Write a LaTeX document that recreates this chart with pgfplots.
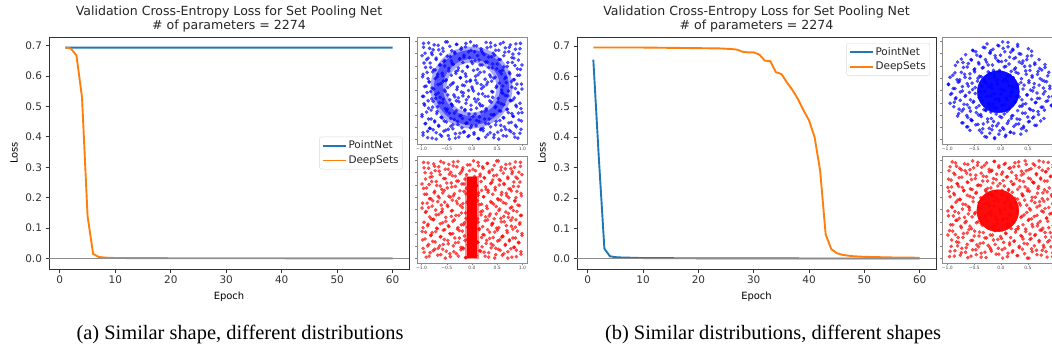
\documentclass[border=0pt]{standalone}
\usepackage{pgfplots}
\pgfplotsset{compat=1.18}
\usepackage{pgfplotstable}
\usepackage{fontspec}
\setmainfont{DejaVu Sans}
\newfontfamily\capfont{Liberation Serif}
\definecolor{tabblue}{HTML}{1F77B4}
\definecolor{taborange}{HTML}{FF7F0E}

\pgfplotstableread{
a b
-0.97 -0.91
-0.88 -0.83
-0.79 -0.97
-0.71 -0.86
-0.60 -0.93
-0.52 -0.81
-0.45 -0.99
-0.33 -0.88
-0.26 -0.95
-0.15 -0.84
-0.06 -0.92
0.04 -0.86
0.13 -0.98
0.22 -0.82
0.31 -0.90
0.43 -0.96
0.51 -0.85
0.62 -0.92
0.74 -0.81
0.85 -0.95
0.95 -0.87
-0.93 -0.68
-0.84 -0.77
-0.74 -0.64
-0.66 -0.73
-0.55 -0.62
-0.47 -0.79
-0.38 -0.70
-0.29 -0.63
-0.20 -0.76
-0.10 -0.66
-0.01 -0.72
0.09 -0.61
0.18 -0.78
0.27 -0.67
0.37 -0.74
0.48 -0.63
0.57 -0.71
0.67 -0.79
0.78 -0.65
0.88 -0.74
0.98 -0.62
-0.99 -0.53
-0.90 -0.44
-0.81 -0.58
-0.70 -0.47
-0.61 -0.55
-0.50 -0.42
-0.42 -0.57
-0.35 -0.46
-0.24 -0.52
-0.14 -0.41
-0.04 -0.59
0.06 -0.48
0.15 -0.54
0.25 -0.43
0.34 -0.58
0.44 -0.49
0.54 -0.41
0.63 -0.56
0.72 -0.45
0.82 -0.53
0.92 -0.46
-0.95 -0.27
-0.86 -0.36
-0.77 -0.22
-0.68 -0.33
-0.58 -0.25
-0.49 -0.38
-0.40 -0.29
-0.31 -0.21
-0.21 -0.35
-0.12 -0.26
-0.02 -0.39
0.08 -0.23
0.17 -0.31
0.28 -0.37
0.38 -0.24
0.47 -0.33
0.58 -0.27
0.69 -0.39
0.77 -0.21
0.87 -0.30
0.97 -0.37
-0.98 -0.12
-0.89 -0.04
-0.80 -0.17
-0.72 -0.08
-0.63 -0.14
-0.53 -0.02
-0.44 -0.19
-0.36 -0.09
-0.27 -0.15
-0.17 -0.05
-0.07 -0.13
0.03 -0.01
0.12 -0.18
0.21 -0.07
0.32 -0.12
0.41 -0.03
0.52 -0.16
0.61 -0.06
0.71 -0.11
0.81 -0.19
0.91 -0.04
-0.94 0.08
-0.85 0.17
-0.76 0.03
-0.67 0.12
-0.57 0.19
-0.48 0.06
-0.39 0.14
-0.30 0.02
-0.19 0.11
-0.11 0.18
0.00 0.07
0.10 0.15
0.19 0.04
0.29 0.12
0.39 0.19
0.49 0.09
0.59 0.01
0.68 0.16
0.79 0.07
0.89 0.13
0.99 0.03
-0.97 0.33
-0.87 0.24
-0.78 0.38
-0.69 0.28
-0.59 0.35
-0.51 0.22
-0.41 0.31
-0.32 0.39
-0.23 0.26
-0.13 0.34
-0.03 0.21
0.07 0.29
0.16 0.37
0.26 0.23
0.35 0.32
0.46 0.27
0.55 0.39
0.65 0.24
0.75 0.34
0.84 0.22
0.94 0.31
-0.92 0.47
-0.83 0.56
-0.73 0.42
-0.64 0.51
-0.56 0.59
-0.46 0.45
-0.37 0.53
-0.28 0.41
-0.18 0.57
-0.09 0.48
0.01 0.55
0.11 0.43
0.20 0.52
0.30 0.58
0.40 0.46
0.50 0.54
0.60 0.41
0.70 0.49
0.80 0.57
0.90 0.44
0.99 0.52
-0.99 0.71
-0.90 0.63
-0.80 0.77
-0.71 0.66
-0.62 0.74
-0.54 0.61
-0.43 0.69
-0.34 0.78
-0.25 0.64
-0.16 0.72
-0.05 0.67
0.05 0.79
0.14 0.62
0.24 0.73
0.33 0.68
0.42 0.76
0.53 0.63
0.63 0.71
0.73 0.79
0.83 0.66
0.93 0.75
-0.96 0.88
-0.86 0.97
-0.77 0.83
-0.67 0.92
-0.58 0.86
-0.49 0.99
-0.40 0.81
-0.30 0.94
-0.21 0.87
-0.12 0.96
-0.02 0.82
0.09 0.91
0.18 0.85
0.28 0.98
0.37 0.89
0.47 0.82
0.56 0.95
0.66 0.87
0.76 0.93
0.86 0.84
0.96 0.96
}\bgpts

\pgfplotsset{
  mainax/.style={
    scale only axis, width=360bp, height=232bp,
    xmin=-1.95, xmax=62.95, ymin=-0.0347, ymax=0.7283,
    xtick={0,10,20,30,40,50,60},
    ytick={0,0.1,0.2,0.3,0.4,0.5,0.6,0.7},
    yticklabel style={/pgf/number format/.cd, fixed, fixed zerofill, precision=1},
    /pgf/number format/assume math mode=true,
    tick align=outside, tick pos=left, major tick length=3.5bp,
    tick label style={font=\fontsize{10.5}{12}\selectfont, text=black!80},
    axis line style={black!80, line width=0.9bp},
    major tick style={black!80, line width=0.8bp},
    xlabel={Epoch}, ylabel={Loss},
    label style={font=\fontsize{10.5}{12}\selectfont, text=black!80},
    every axis y label/.style={at={(axis description cs:-0.097,0.5)}, rotate=90, anchor=center},
    every axis x label/.style={at={(axis description cs:0.5,-0.121)}, anchor=center},
    title={Validation Cross-Entropy Loss for Set Pooling Net\\\# of parameters = 2274},
    title style={at={(axis description cs:0.5,1)}, anchor=south, yshift=-1bp, inner sep=0pt,
      align=center, font=\fontsize{12.6}{14}\selectfont, text=black!85},
    legend style={draw=black!15, rounded corners=2bp, fill=white,
      font=\fontsize{10.5}{12}\selectfont, text=black!85, inner sep=2bp,
      row sep=1.5bp, cells={anchor=west}},
    legend cell align=left,
  },
  pn/.style={color=tabblue, line width=1.9bp, line join=round},
  ds/.style={color=taborange, line width=1.9bp, line join=round},
  thumb/.style={
    scale only axis, height=107bp,
    ymin=-1.09, ymax=1.09,
    axis line style={black!45, line width=0.6bp},
    xtick={-1,-0.5,0,0.5,1}, xticklabels={−1.0,−0.5,0.0,0.5,1.0},
    ytick={-1,-0.75,-0.5,-0.25,0,0.25,0.5,0.75,1}, yticklabels={},
    tick align=outside, tick pos=left, major tick length=2bp,
    major tick style={black!50, line width=0.4bp},
    xticklabel style={font=\fontsize{4.5}{5}\selectfont, inner sep=1bp, text=black!70},
  },
  bdots/.style={only marks, color=blue, mark=*, mark size=1.7bp, mark options={solid, fill=blue, draw=blue, line width=0.2bp, fill opacity=0.68, draw opacity=0.68}},
  rdots/.style={only marks, color=red, mark=*, mark size=1.7bp, mark options={solid, fill=red, draw=red, line width=0.2bp, fill opacity=0.68, draw opacity=0.68}},
}

\begin{document}
\begin{tikzpicture}[x=1bp,y=1bp]
\useasboundingbox (0,0) rectangle (1052,354);
\clip (0,0) rectangle (1052,354);

% ---------- left main ----------
\begin{axis}[mainax, at={(49bp,85bp)}, anchor=south west,
  legend style={at={(axis description cs:0.983,0.5)}, anchor=east}]
\addlegendimage{legend image code/.code={\draw[tabblue, line width=1.9bp] (0bp,0bp) -- (23bp,0bp);}}
\addlegendentry{PointNet}
\addlegendimage{legend image code/.code={\draw[taborange, line width=1.9bp] (0bp,0bp) -- (23bp,0bp);}}
\addlegendentry{DeepSets}
\addplot[pn, forget plot] coordinates {(1,0.6935) (10,0.6931) (20,0.6933) (30,0.6932) (40,0.6931) (50,0.6932) (60,0.6932)};
\addplot[ds, forget plot] coordinates {(1,0.694) (2,0.690) (3,0.668) (4,0.53) (5,0.14) (6,0.015) (7,0.005) (8,0.003) (9,0.002) (10,0.0015) (15,0.001) (20,0.0008) (30,0.0006) (40,0.0005) (50,0.0004) (60,0.0004)};
\addplot[black!45, line width=1.3bp, forget plot] coordinates {(-1.95,0) (62.95,0)};
\end{axis}

% ---------- right main ----------
\begin{axis}[mainax, at={(577bp,85bp)}, anchor=south west, width=359bp,
  ymin=-0.034, ymax=0.7297,
  legend style={at={(axis description cs:0.983,0.974)}, anchor=north east}]
\addlegendimage{legend image code/.code={\draw[tabblue, line width=1.9bp] (0bp,0bp) -- (23bp,0bp);}}
\addlegendentry{PointNet}
\addlegendimage{legend image code/.code={\draw[taborange, line width=1.9bp] (0bp,0bp) -- (23bp,0bp);}}
\addlegendentry{DeepSets}
\addplot[pn, forget plot] coordinates {(1,0.655) (2,0.33) (3,0.033) (4,0.008) (5,0.005) (6,0.004) (8,0.003) (10,0.002) (20,0.0012) (30,0.0009) (40,0.0007) (50,0.0006) (60,0.0005)};
\addplot[ds, forget plot] coordinates {(1,0.695) (5,0.695) (10,0.695) (15,0.694) (20,0.693) (24,0.692) (26,0.690) (27,0.688) (28,0.681) (29,0.679) (30,0.679) (31,0.672) (32,0.652) (33,0.650) (34,0.614) (35,0.608) (36,0.580) (37,0.555) (38,0.525) (39,0.488) (40,0.455) (41,0.400) (42,0.290) (43,0.080) (44,0.032) (45,0.018) (46,0.013) (47,0.010) (48,0.008) (50,0.006) (55,0.004) (60,0.003)};
\addplot[black!45, line width=1.3bp, forget plot] coordinates {(-1.95,0) (62.95,0)};
\end{axis}

% ---------- left thumbnails ----------
\begin{axis}[thumb, at={(417bp,210bp)}, anchor=south west, width=110bp, xmin=-1.09, xmax=1.09]
\addplot[only marks, mark=o, mark size=33bp, mark options={draw=blue, line width=16bp, draw opacity=0.35}] coordinates {(-0.01,0.06)};
\addplot[only marks, mark=o, mark size=33bp, mark options={draw=blue, line width=9bp, draw opacity=0.5}] coordinates {(-0.01,0.06)};
\addplot[bdots] table[x=a, y=b] \bgpts;
\addplot[bdots] table[x expr={-\thisrow{b}}, y=a] \bgpts;
\end{axis}

\begin{axis}[thumb, at={(417bp,91bp)}, anchor=south west, width=110bp, xmin=-1.09, xmax=1.09]
\addplot[rdots] table[x=b, y=a] \bgpts;
\addplot[rdots] table[x expr={-\thisrow{a}}, y=b] \bgpts;
\addplot[fill=red, draw=none, fill opacity=0.45] coordinates {(-0.14,-1.01) (0.14,-1.01) (0.14,0.69) (-0.14,0.69)} -- cycle;
\addplot[fill=red, draw=none] coordinates {(-0.10,-0.98) (0.10,-0.98) (0.10,0.67) (-0.10,0.67)} -- cycle;
\end{axis}

% ---------- right thumbnails ----------
\begin{axis}[thumb, at={(942bp,210bp)}, anchor=south west, width=118bp, xmin=-1.1, xmax=1.1]
\addplot[bdots]
  table[x expr={ifthenelse(\thisrow{a}*\thisrow{a}+\thisrow{b}*\thisrow{b}>1.0,9,\thisrow{a})}, y expr={-\thisrow{b}}] \bgpts;
\addplot[bdots]
  table[x expr={ifthenelse(\thisrow{a}*\thisrow{a}+\thisrow{b}*\thisrow{b}>1.0,9,\thisrow{b})}, y expr={\thisrow{a}}] \bgpts;
\addplot[only marks, mark=*, mark size=21bp, mark options={fill=blue, draw=blue, fill opacity=0.95}] coordinates {(-0.05,-0.025)};
\end{axis}

\begin{axis}[thumb, at={(942bp,91bp)}, anchor=south west, width=118bp, xmin=-1.1, xmax=1.1]
\addplot[rdots] table[x expr={-\thisrow{a}}, y expr={-\thisrow{b}}] \bgpts;
\addplot[rdots] table[x expr={\thisrow{b}}, y expr={-\thisrow{a}}] \bgpts;
\addplot[only marks, mark=*, mark size=21bp, mark options={fill=red, draw=red, fill opacity=0.95}] coordinates {(-0.06,-0.025)};
\end{axis}

% ---------- captions ----------
\node[font=\capfont\fontsize{20.5}{24}\selectfont, text=black] at (240,20) {(a) Similar shape, different distributions};
\node[font=\capfont\fontsize{20.5}{24}\selectfont, text=black] at (773,20) {(b) Similar distributions, different shapes};
\end{tikzpicture}
\end{document}
